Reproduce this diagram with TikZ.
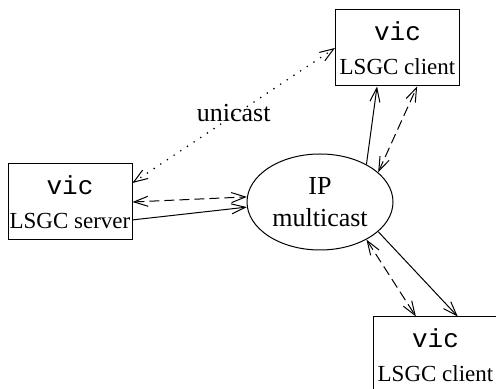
\documentclass[tikz,border=0pt]{standalone}
\usepackage{fontspec}
\setmainfont{Liberation Serif}
\setmonofont{Liberation Mono}
\usetikzlibrary{positioning,shapes.geometric,arrows.meta}
\tikzset{basic/.style={draw,line width=0.5pt,inner sep=0pt,align=center}}
\tikzset{host/.style={basic,rectangle,minimum width=62pt,minimum height=38pt,font=\fontsize{11.5}{14}\selectfont}}
\tikzset{mcast/.style={basic,ellipse,minimum width=73pt,minimum height=48pt,font=\fontsize{13}{16}\selectfont}}
\tikzset{link/.style={line width=0.5pt,-{Straight Barb[length=7pt,width=5pt,line width=0.5pt]}}}
\tikzset{both/.style={link,{Straight Barb[length=7pt,width=5pt,line width=0.5pt]}-{Straight Barb[length=7pt,width=5pt,line width=0.5pt]}}}
\tikzset{ctrl/.style={both,dash pattern=on 5pt off 2.5pt}}
\tikzset{uni/.style={both,line width=0.9pt,line cap=round,dash pattern=on 0pt off 4pt}}
\newcommand{\vic}{{\fontsize{13}{13}\selectfont\ttfamily vic}}

\begin{document}
\begin{tikzpicture}[x=0.5pt,y=0.5pt]
    \useasboundingbox (0,0) rectangle (496,389);
        \node[mcast] at (320,187) (cast) {IP\\multicast};
        \node[host,left=57pt of cast] (server) {\vic\\[3pt]LSGC server};
        \node[host,above=33.5pt of cast,xshift=38.75pt] (top) {\vic\\[3pt]LSGC client};
        \node[host,below=33pt of cast,xshift=57.75pt] (bottom) {\vic\\[3pt]LSGC client};
            \draw[uni] (server.17) -- node[font=\fontsize{13}{13}\selectfont,yshift=1pt] (label) {unicast} (top.west);
            \draw[ctrl] (server.east) -- (cast.176);
            \draw[link] (server.-16) -- (cast.184);
            \draw[link] (cast.39) -- (top.242);
            \draw[ctrl] (cast.27) -- (top.297);
            \draw[link] (cast.-27) -- (bottom.60);
            \draw[ctrl] (cast.-39) -- (bottom.117);
    \end{tikzpicture}
\end{document}
